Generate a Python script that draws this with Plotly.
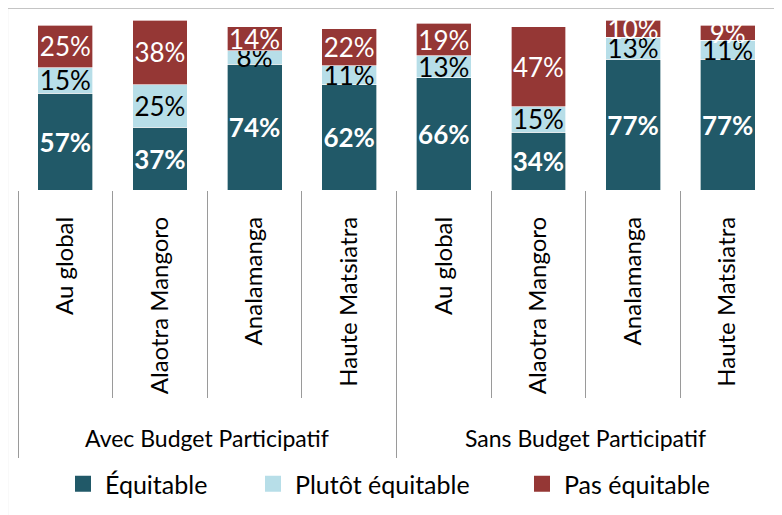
import plotly.graph_objects as go

# ---- data ----
groups = ["Avec Budget Participatif", "Sans Budget Participatif"]
categories = ["Au global", "Alaotra Mangoro", "Analamanga", "Haute Matsiatra"]
series_names = ["Équitable", "Plutôt équitable", "Pas équitable"]
equitable = [57, 37, 74, 62, 66, 34, 77, 77]
plutot = [15, 25, 8, 11, 13, 15, 13, 11]
pas = [25, 38, 14, 22, 19, 47, 10, 9]

# ---- styling ----
W, H = 782, 515
OFF = 8  # page body offset of the figure inside the screenshot
# plot area in screen pixels
SX0, SX1, SY0, SY1 = 18, 775, 20, 190
L, R = SX0 - OFF, W - (SX1 - OFF)
T, B = SY0 - OFF, H - (SY1 - OFF)
FONT = "Lato"
colors = ["#215968", "#B7DEE8", "#953735"]
text_colors = ["white", "black", "white"]
bold = [True, False, False]
legend_left = [78, 268, 537]  # screen x of legend squares
SEP = "#9A9A9A"

n = len(groups) * len(categories)
xs = list(range(n))
labels = categories * len(groups)


def py(s):
    """screen y -> paper y"""
    return (SY1 - s) / (SY1 - SY0)


def px_x(s):
    """screen x -> paper x"""
    return (s - SX0) / (SX1 - SX0)


fig = go.Figure()
legend_ids = ["legend", "legend2", "legend3"]
for name, vals, c, tc, b in zip(series_names, [equitable, plutot, pas], colors,
                                 text_colors, bold):
    fig.add_trace(go.Bar(
        x=xs, y=vals, name=name, showlegend=False,
        marker=dict(color=c, line=dict(width=0.8, color="rgba(255,255,255,0.8)")),
        text=[f"{v}%" for v in vals],
        texttemplate="<b>%{text}</b>" if b else "%{text}",
        textposition="inside", insidetextanchor="middle",
        constraintext="none", textangle=0,
        textfont=dict(family=FONT, size=26, color=tc),
        cliponaxis=False,
    ))

# legend entries (square swatches)
for name, c, lg in zip(series_names, colors, legend_ids):
    fig.add_trace(go.Scatter(
        x=[None], y=[None], name=name, legend=lg, mode="markers",
        marker=dict(symbol="square", size=16, color=c, line=dict(width=0)),
        hoverinfo="skip",
    ))

# empty helper traces so that the separator axes are drawn
for ax in ["x2", "x3"]:
    fig.add_trace(go.Scatter(x=[None], y=[None], xaxis=ax, yaxis="y",
                             showlegend=False, hoverinfo="skip", mode="markers"))

per = len(categories)
boundaries = [i - 0.5 for i in range(n + 1)]
group_bounds = [g * per - 0.5 for g in range(len(groups) + 1)]

sep_axis = dict(
    overlaying="x", anchor="y", side="bottom",
    range=[-0.5, n - 0.5], tickmode="array",
    ticks="outside", tickwidth=1, tickcolor=SEP,
    showticklabels=False, showgrid=False, zeroline=False, showline=False,
)

legends = {}
for lg, sx in zip(legend_ids, legend_left):
    legends[lg] = dict(
        orientation="h", x=px_x(sx - 17), xanchor="left", y=py(484), yanchor="middle",
        font=dict(size=25, family=FONT, color="black"), bgcolor="rgba(0,0,0,0)",
        itemwidth=34,
    )

fig.update_layout(
    width=W, height=H,
    margin=dict(l=L, r=R, t=T, b=B),
    barmode="stack", bargap=0.42,
    paper_bgcolor="white", plot_bgcolor="white",
    font=dict(family=FONT, color="black"),
    xaxis=dict(
        range=[-0.5, n - 0.5], tickmode="array", tickvals=xs, ticktext=labels,
        tickangle=-90, tickfont=dict(size=24, family=FONT), ticks="",
        showgrid=False, zeroline=False, showline=False, ticklabelstandoff=21,
    ),
    xaxis2=dict(sep_axis, tickvals=boundaries, ticklen=207),
    xaxis3=dict(sep_axis, tickvals=group_bounds, ticklen=267),
    yaxis=dict(range=[0, 100], visible=False, showgrid=False, zeroline=False),
    showlegend=True,
    **legends,
)

for g, gname in enumerate(groups):
    center = sum(xs[g * per:(g + 1) * per]) / per
    fig.add_annotation(
        x=center, xref="x", y=py(438), yref="paper", text=gname,
        showarrow=False, font=dict(size=23, family=FONT, color="black"),
        xanchor="center", yanchor="middle",
    )

# outer chart border (figure edge)
fig.add_shape(type="rect", xref="paper", yref="paper",
              x0=px_x(OFF - 0.5), x1=px_x(W + OFF - 1), y0=py(H + OFF - 1), y1=py(OFF + 0.5),
              line=dict(color="#C4C4C4", width=1.2), fillcolor="rgba(0,0,0,0)",
              layer="below")

fig.write_html("out.html")
